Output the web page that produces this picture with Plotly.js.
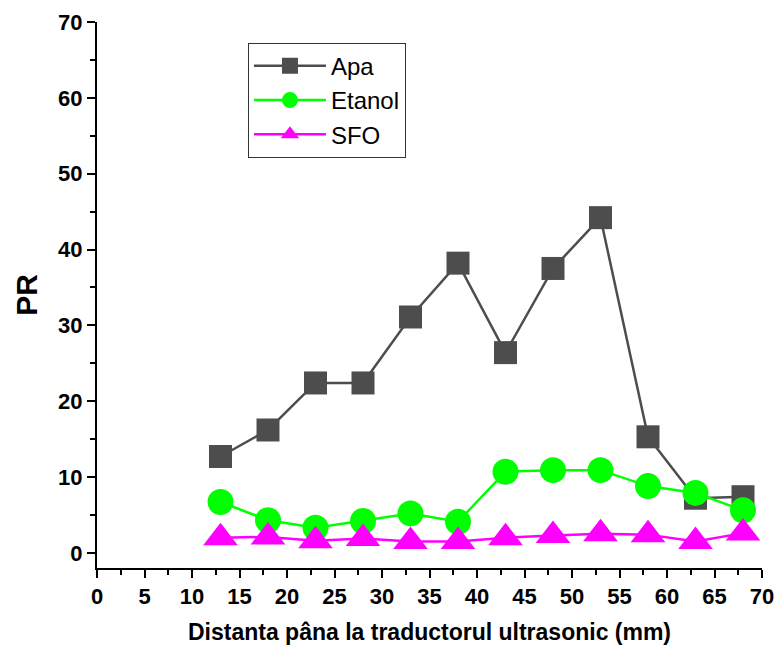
<!DOCTYPE html>
<html>
<head>
<meta charset="utf-8">
<script src="https://cdn.plot.ly/plotly-3.0.1.min.js"></script>
<style>html,body{margin:0;padding:0;background:#fff;}#chart{width:777px;height:645px;}</style>
</head>
<body>
<div id="chart"></div>
<script>
const distance = [13, 18, 23, 28, 33, 38, 43, 48, 53, 58, 63, 68];
const apa = [12.7, 16.2, 22.4, 22.4, 31.1, 38.2, 26.4, 37.5, 44.2, 15.3, 7.2, 7.4];
const etanol = [6.7, 4.3, 3.3, 4.2, 5.2, 4.1, 10.7, 10.9, 10.9, 8.8, 7.9, 5.6];
const sfo = [2.0, 2.1, 1.6, 1.9, 1.5, 1.5, 2.0, 2.3, 2.5, 2.4, 1.5, 2.6];
const seriesNames = ['Apa', 'Etanol', 'SFO'];
const xTitle = 'Distanta pâna la traductorul ultrasonic (mm)';
const yTitle = 'PR';

const FONT = '"Liberation Sans", Arial, sans-serif';

const traces = [
  {x: distance, y: apa, name: seriesNames[0], mode: 'lines+markers',
   line: {color: '#4d4d4d', width: 2.5},
   marker: {symbol: 'square', size: 23, color: '#4d4d4d'}},
  {x: distance, y: etanol, name: seriesNames[1], mode: 'lines+markers',
   line: {color: '#00ff00', width: 2.5},
   marker: {symbol: 'circle', size: 26, color: '#00ff00'}},
  {x: distance, y: sfo, name: seriesNames[2], mode: 'lines+markers',
   line: {color: '#ff00ff', width: 2.5},
   marker: {symbol: 'triangle-up', size: 30, color: '#ff00ff'}}
];

const axisCommon = {
  showgrid: false, zeroline: false, showline: true, linecolor: '#000', linewidth: 2,
  ticks: 'outside', ticklen: 8, tickwidth: 2, tickcolor: '#000',
  tickfont: {family: FONT, size: 22, color: '#000', weight: 'bold'},
  minor: {ticks: 'outside', ticklen: 5, tickwidth: 2, tickcolor: '#000'}
};

const layout = {
  width: 777, height: 645,
  margin: {l: 97, r: 15, t: 22, b: 77},
  paper_bgcolor: '#fff', plot_bgcolor: '#fff',
  showlegend: true,
  legend: {
    x: 0.227, y: 0.962, xanchor: 'left', yanchor: 'top',
    bordercolor: '#333', borderwidth: 1, bgcolor: '#fff',
    font: {family: FONT, size: 24, color: '#000'},
    itemwidth: 72, tracegroupgap: 0
  },
  xaxis: Object.assign({}, axisCommon, {
    range: [0, 70], dtick: 5, tick0: 0,
    minor: Object.assign({}, axisCommon.minor, {dtick: 2.5}),
    title: {text: xTitle, standoff: 16, font: {family: FONT, size: 23, color: '#000', weight: 'bold'}}
  }),
  yaxis: Object.assign({}, axisCommon, {
    range: [-2, 70], dtick: 10, tick0: 0,
    minor: Object.assign({}, axisCommon.minor, {dtick: 5, tick0: 0}),
    title: {text: yTitle, standoff: 12, font: {family: FONT, size: 30, color: '#000', weight: 'bold'}}
  })
};

Plotly.newPlot('chart', traces, layout, {displayModeBar: false, staticPlot: true});
</script>
</body>
</html>
